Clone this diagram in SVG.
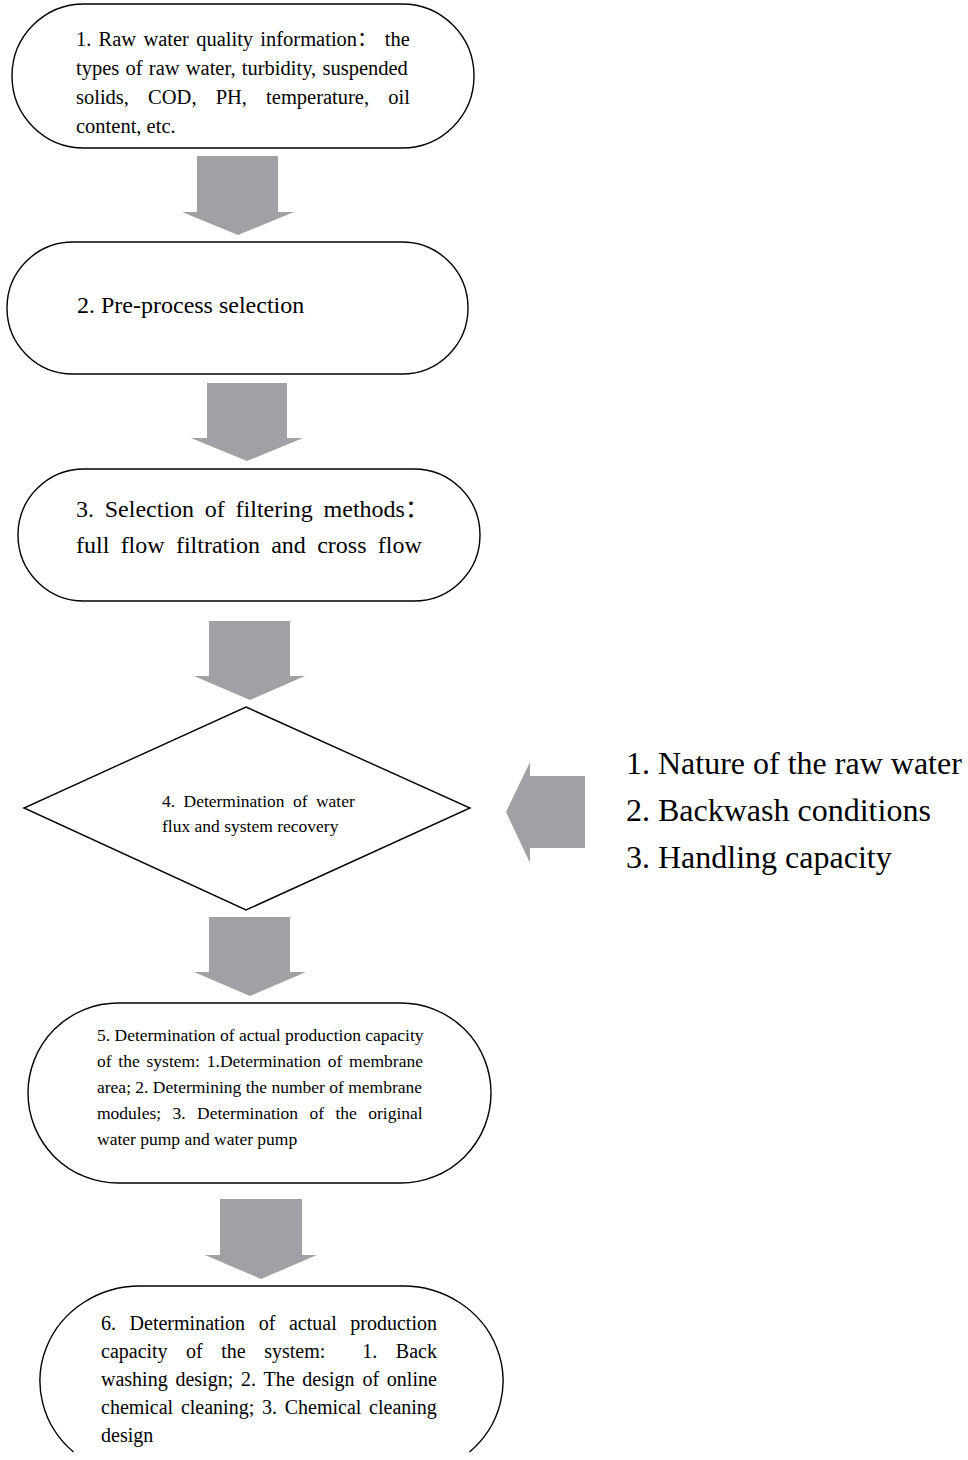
<svg xmlns="http://www.w3.org/2000/svg" width="968" height="1460" viewBox="0 0 968 1460">
<defs>
<style>
.shape{fill:#fff;stroke:#000;stroke-width:1.4}
.arrow{fill:#a1a1a5;stroke:none}
text{font-family:"Liberation Serif","Times New Roman","Noto Sans CJK SC",serif;fill:#000}
.t1{font-size:20.5px}
.t2{font-size:24px}
.t4{font-size:17.5px}
.t5{font-size:17.5px}
.t6{font-size:20px}
.side{font-size:32px}
</style>
</defs>
<rect width="968" height="1460" fill="#fff"/>
<g id="connectors">
<polygon class="arrow" points="197,156 278,156 278,212 294,212 238,235 182,212 197,212"/>
<polygon class="arrow" points="207,383 287,383 287,438 303,438 247,461 191,438 207,438"/>
<polygon class="arrow" points="209,621 290,621 290,676 305,676 250,700 194,676 209,676"/>
<polygon class="arrow" points="209,917 290,917 290,972 306,972 250,996 194,972 209,972"/>
<polygon class="arrow" points="220,1199 302,1199 302,1255 317,1255 261,1279 205,1255 220,1255"/>
<polygon class="arrow" points="585,776 585,848 530,848 530,863 506,812 530,762 530,776"/>
</g>
<g id="node1">
<rect class="shape" x="12" y="4" width="462" height="144" rx="72" ry="72"/>
<text class="t1" x="76" y="46" style="word-spacing:2.1px">1. Raw water quality information： the</text>
<text class="t1" x="76" y="75" style="word-spacing:1.1px">types of raw water, turbidity, suspended</text>
<text class="t1" x="76" y="104" style="word-spacing:14px">solids, COD, PH, temperature, oil</text>
<text class="t1" x="76" y="133">content, etc.</text>
</g>
<g id="node2">
<rect class="shape" x="7" y="242" width="461" height="132" rx="66" ry="66"/>
<text class="t2" x="77" y="313">2. Pre-process selection</text>
</g>
<g id="node3">
<rect class="shape" x="18" y="469" width="462" height="132" rx="66" ry="66"/>
<text class="t2" x="76" y="517" style="word-spacing:4.75px">3. Selection of filtering methods：</text>
<text class="t2" x="76" y="553" style="word-spacing:5.3px">full flow filtration and cross flow</text>
</g>
<g id="node4">
<polygon class="shape" points="246,707 470,808 246,910 24,808"/>
<text class="t4" x="162" y="807" style="word-spacing:4px">4. Determination of water</text>
<text class="t4" x="162" y="832">flux and system recovery</text>
</g>
<g id="node5">
<rect class="shape" x="28" y="1003" width="463" height="180" rx="90" ry="90"/>
<text class="t5" x="97" y="1041">5. Determination of actual production capacity</text>
<text class="t5" x="97" y="1067" style="word-spacing:2.4px">of the system: 1.Determination of membrane</text>
<text class="t5" x="97" y="1093">area; 2. Determining the number of membrane</text>
<text class="t5" x="97" y="1119" style="word-spacing:7px">modules; 3. Determination of the original</text>
<text class="t5" x="97" y="1145">water pump and water pump</text>
</g>
<g id="node6">
<path class="shape" d="M 73.5 1452 A 100 95 0 0 1 140 1286 L 403 1286 A 100 95 0 0 1 469.5 1452"/>
<text class="t6" x="101" y="1330" style="word-spacing:8.6px">6. Determination of actual production</text>
<text class="t6" x="101" y="1358" xml:space="preserve" style="word-spacing:13.5px;white-space:pre">capacity of the system:  1. Back</text>
<text class="t6" x="101" y="1386" style="word-spacing:2.8px">washing design; 2. The design of online</text>
<text class="t6" x="101" y="1414" style="word-spacing:2.75px">chemical cleaning; 3. Chemical cleaning</text>
<text class="t6" x="101" y="1442">design</text>
</g>
<g id="side-list">
<text class="side" x="626" y="774">1. Nature of the raw water</text>
<text class="side" x="626" y="821">2. Backwash conditions</text>
<text class="side" x="626" y="868">3. Handling capacity</text>
</g>
</svg>
